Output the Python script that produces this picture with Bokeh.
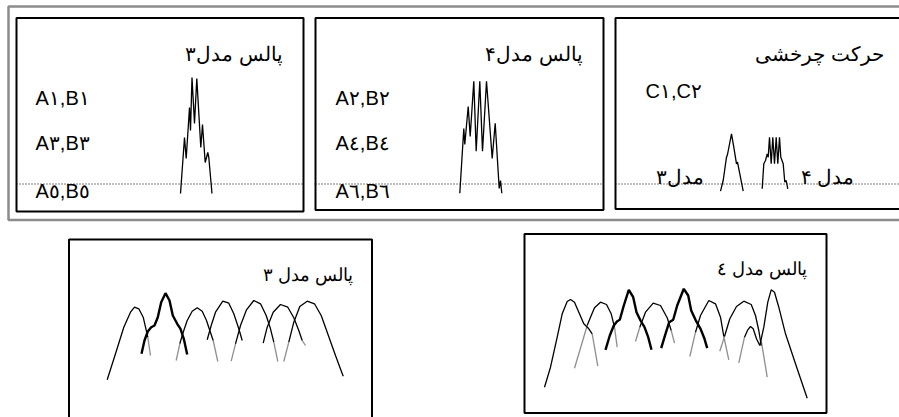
from bokeh.plotting import figure
from bokeh.models import Range1d
from bokeh.core.properties import value
from bokeh.embed import file_html
from bokeh.resources import INLINE

# ---------------- data (reference pixel coordinates) ----------------
# frames: left, right, top, bottom
outer_frame = [8, 905, 6, 219.5]
top_boxes_left = [16, 315, 615]
top_boxes_right = [303, 603, 910]
top_boxes_top = [17.5, 17.5, 17.5]
top_boxes_bottom = [211, 209.5, 208.5]
bottom_boxes_left = [68.5, 524]
bottom_boxes_right = [371.5, 826]
bottom_boxes_top = [239, 233.5]
bottom_boxes_bottom = [430, 412.5]

baseline_y = 183.5
baseline_x0 = [16, 315, 615]
baseline_x1 = [303, 603, 899]

titles = ["پالس مدل۳", "پالس مدل۴", "حرکت چرخشی"]
titles_x = [282, 582, 883]
titles_y = [53, 53, 53]

labels = ["A١,B١", "A٣,B٣", "A٥,B٥", "A٢,B٢", "A٤,B٤", "A٦,B٦", "C١,C٢"]
labels_x = [35, 35, 35, 335, 335, 335, 645]
labels_y = [97, 142, 190, 97, 142, 190, 90]

mode_labels = ["مدل۳", "مدل ۴"]
mode_labels_x = [655, 800]
mode_labels_y = [176, 176]

bottom_titles = ["پالس مدل ٣", "پالس مدل ٤"]
bottom_titles_x = [352, 806]
bottom_titles_y = [274, 268]

# jagged pulse traces in the top panels
pulse3 = [(180, 193), (184, 137), (185.7, 158), (189, 107), (190, 130), (191.5, 77),
          (194, 123), (196.3, 78), (200.3, 147), (202, 124), (204.7, 162), (207.3, 152),
          (208.3, 157), (211.5, 193)]
pulse4 = [(459.3, 192.7), (463.3, 128), (464.3, 144), (467.7, 106), (469.7, 136),
          (473.3, 80.7), (475.7, 150.7), (479.3, 80.7), (482, 150.7), (486, 80.7),
          (491.7, 158), (494.7, 122.7), (498.7, 188), (500, 180), (501.3, 192.7)]
rot3 = [(720, 190.7), (722.7, 180), (726, 156.7), (727, 154), (731, 133.3), (733.3, 146.7),
        (736, 163.3), (737, 161.7), (742.7, 190.7)]
rot4 = [(761.7, 188.3), (763.3, 163.3), (765, 160), (766.7, 153.3), (767.7, 156.7),
        (769, 136.7), (770.7, 163.3), (772.3, 136.7), (774, 163.3), (775.7, 136.7),
        (777.3, 163.3), (779, 136.7), (780.3, 156.7), (782.7, 163.3), (784.3, 181.7),
        (785.7, 180), (787.3, 188.3)]

# overlapping bell curves, bottom panels
thin_arcs = [
    [(106.7, 379.3), (115, 353.3), (123.3, 326.7), (130, 311.7), (134, 306.7), (138.3, 308.3), (142.7, 316.7), (147.3, 336.7)],
    [(179.3, 343.3), (182.7, 331.7), (186.7, 320), (191.7, 310.7), (196.7, 307.3), (201.7, 310.7), (206, 320), (209.3, 330), (212.7, 340)],
    [(206.7, 339.3), (210.7, 325), (215, 311.7), (222.3, 300.7), (228.3, 302.7), (233.3, 313.3), (238.3, 328.3), (241.7, 340)],
    [(235, 343.3), (240, 325), (246, 309.3), (253.3, 300), (260, 303.3), (265.7, 315), (270, 328.3), (273.3, 341.7)],
    [(262.7, 342.7), (266.7, 326.7), (272.7, 311.7), (280, 304), (287.3, 306.7), (293.3, 317.3), (298.3, 330), (301.7, 340)],
    [(288.3, 341.7), (293.3, 321.7), (299.3, 306), (306.7, 300.7), (314, 303.3), (320.7, 315), (326.7, 331.7), (335, 355), (342.7, 375.7)],
    [(544, 386.7), (550, 366.7), (556.7, 336.7), (561.7, 313.3), (566.7, 301), (570, 299), (574, 301.7), (578.3, 311.7), (583.3, 323.3), (588.3, 328.3), (591.7, 333.3)],
    [(586.7, 325), (590, 316.7), (594, 307.3), (600, 301.7), (606, 304), (610.7, 313.3), (614, 326.7)],
    [(639.3, 326.7), (645, 311.7), (652.7, 302.7), (660, 305), (666.7, 317.3), (670.7, 330)],
    [(695, 331.7), (700, 315), (708.3, 300), (715, 303.3), (720, 316.7), (723.3, 336)],
    [(724, 336), (729.3, 318.3), (736, 306), (743.3, 300.7), (750.7, 304), (755, 315), (758.3, 330), (760.7, 345)],
    [(744, 336.7), (747.3, 329.3), (750, 326), (752.7, 328.3), (756, 338.3), (759.3, 345)],
    [(759.3, 345), (763.3, 326.7), (767.3, 301.7), (770.7, 289.3), (774, 291.7), (778.3, 306.7), (785, 333.3), (795, 363.3), (806.7, 397.7)],
]
bold_arcs = [
    [(141, 353.3), (144, 340), (147.3, 331), (150.7, 326.7), (154, 325), (157.3, 316.7), (160.7, 301.7), (165, 292.7), (169, 300), (172.3, 315), (176.7, 323.3), (180, 328.3), (183.3, 338.3), (186.7, 354)],
    [(605, 349.3), (609.3, 335), (613.3, 325), (616.7, 320.7), (619.3, 319.3), (623.3, 305), (628.3, 289.3), (632.7, 296.7), (636, 311.7), (640, 320), (644, 326.7), (647.7, 336.7), (651, 349.3)],
    [(660.7, 347.7), (665, 333.3), (668.7, 321.7), (672.7, 319.3), (676.7, 305), (683.3, 288.3), (687.7, 295), (690.7, 310), (695, 319.3), (700, 328.3), (704, 338.3), (706.7, 347.7)],
]
gray_tails = [
    [(147.3, 336.7), (150, 355)],
    [(175.7, 360), (179.3, 343.3)],
    [(212.7, 340), (217.3, 361)],
    [(230.7, 360.7), (235, 343.3)],
    [(273.3, 341.7), (277.3, 361)],
    [(301.7, 340), (305, 345)],
    [(283.3, 361), (288.3, 341.7)],
    [(591.7, 333.3), (597.3, 365.7)],
    [(574, 367.7), (586.7, 325)],
    [(614, 326.7), (616.7, 346.7)],
    [(635, 341), (639.3, 326.7)],
    [(670.7, 330), (674, 342.7)],
    [(689.3, 356), (695, 331.7)],
    [(723.3, 336), (728.3, 359.3)],
    [(719.3, 350.7), (724, 336)],
    [(738.3, 362.3), (744, 336.7)],
    [(760.7, 340), (766.7, 376.7)],
]

# ---------------- figure ----------------
p = figure(width=899, height=417, x_range=Range1d(0, 899), y_range=Range1d(417, 0),
           x_axis_type=None, y_axis_type=None, output_backend="svg",
           toolbar_location=None, min_border=0)
p.grid.visible = False
p.outline_line_color = None
p.background_fill_color = "white"

# outer gray frame
p.quad(left=[outer_frame[0]], right=[outer_frame[1]], top=[outer_frame[2]], bottom=[outer_frame[3]],
       fill_color=None, line_color="#8c8c8c", line_width=2.5)
# panel frames
p.quad(left=top_boxes_left, right=top_boxes_right, top=top_boxes_top, bottom=top_boxes_bottom,
       fill_color=None, line_color="black", line_width=2)
p.quad(left=bottom_boxes_left, right=bottom_boxes_right, top=bottom_boxes_top, bottom=bottom_boxes_bottom,
       fill_color=None, line_color="black", line_width=2)

# dotted baselines
p.segment(x0=baseline_x0, x1=baseline_x1, y0=[baseline_y] * 3, y1=[baseline_y] * 3,
          line_color="black", line_width=1, line_dash="1 2")

def xs_ys(paths):
    return [[pt[0] for pt in path] for path in paths], [[pt[1] for pt in path] for path in paths]

xs, ys = xs_ys([pulse3, pulse4, rot3, rot4])
p.multi_line(xs, ys, line_color="black", line_width=1.3)
xs, ys = xs_ys(gray_tails)
p.multi_line(xs, ys, line_color="#8f8f8f", line_width=1.3)
xs, ys = xs_ys(thin_arcs)
p.multi_line(xs, ys, line_color="black", line_width=1.3)
xs, ys = xs_ys(bold_arcs)
p.multi_line(xs, ys, line_color="black", line_width=2.4)

font = value("Liberation Sans")
p.text(x=titles_x, y=titles_y, text=titles, text_align="right", text_baseline="middle",
       text_font=font, text_font_size="20px", text_color="black")
p.text(x=labels_x, y=labels_y, text=labels, text_align="left", text_baseline="middle",
       text_font=font, text_font_size="20px", text_color="black")
p.text(x=mode_labels_x, y=mode_labels_y, text=mode_labels, text_align="left", text_baseline="middle",
       text_font=font, text_font_size="20px", text_color="black")
p.text(x=bottom_titles_x, y=bottom_titles_y, text=bottom_titles, text_align="right", text_baseline="middle",
       text_font=font, text_font_size="17.5px", text_color="black")

open("out.html", "w").write(file_html(p, INLINE))
